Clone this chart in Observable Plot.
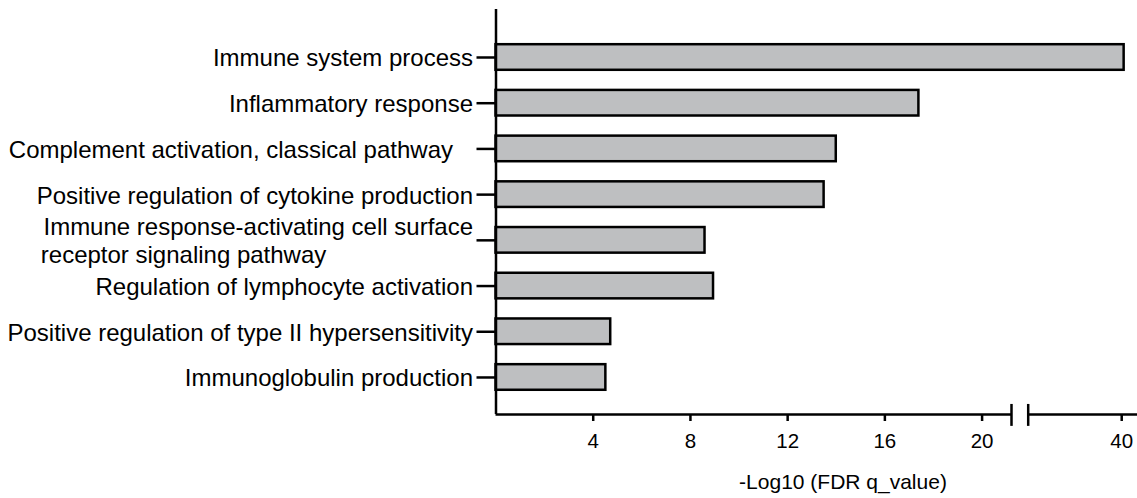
<!DOCTYPE html>
<html><head><meta charset="utf-8">
<script src="https://cdn.jsdelivr.net/npm/d3@7"></script>
<script src="https://cdn.jsdelivr.net/npm/@observablehq/plot@0.6"></script>
<style>
html,body{margin:0;padding:0;background:#fff;overflow:hidden;}
#chart{width:1137px;height:460px;}
#xtitle{font-family:"Liberation Sans",Arial,sans-serif;font-size:21px;margin-left:549px;width:588px;text-align:center;height:28px;line-height:24px;padding-top:10px;color:#000;white-space:nowrap;}
</style></head><body>
<div id="chart"></div>
<div id="xtitle"></div>
<script>
// ---- data ----
const categories = [
  "Immune system process",
  "Inflammatory response",
  "Complement activation, classical pathway",
  "Positive regulation of cytokine production",
  "Immune response-activating cell surface receptor signaling pathway",
  "Regulation of lymphocyte activation",
  "Positive regulation of type II hypersensitivity",
  "Immunoglobulin production"
];
const tickLabels = [
  "Immune system process",
  "Inflammatory response",
  "Complement activation, classical pathway\u00a0\u00a0\u00a0",
  "Positive regulation of cytokine production",
  "Immune response-activating cell surface\nreceptor signaling pathway" + "\u00a0".repeat(22),
  "Regulation of lymphocyte activation",
  "Positive regulation of type II hypersensitivity",
  "Immunoglobulin production"
];
const values = [40.1, 17.4, 14.0, 13.5, 8.6, 8.95, 4.72, 4.52];
const xTicks = [4, 8, 12, 16, 20, 40];
const xTitle = "-Log10 (FDR q_value)";
const axisBreak = [21.21, 36.15];
const xMax = 40.65;

// ---- chart ----
const data = categories.map((c, i) => ({category: c, label: tickLabels[i], value: values[i], i}));
const rows = data.map(d => d.i);
const yTop = -1.05, yBottom = 7.81;
const breakLow = 7.59, breakHigh = 8.07;
const font = '"Liberation Sans", Arial, Helvetica, sans-serif';

const plot = Plot.plot({
  width: 1137,
  height: 460,
  marginTop: 9,
  marginBottom: 46,
  marginLeft: 495.5,
  marginRight: 0,
  style: {fontFamily: font, background: "white", color: "black", overflow: "visible"},
  x: {type: "linear", domain: [0, axisBreak[0], axisBreak[1], xMax], range: [495.5, 1011, 1027.7, 1137]},
  y: {type: "linear", domain: [yBottom, yTop]},
  marks: [
    Plot.rect(data, {
      x1: () => 0, x2: "value",
      y1: d => d.i - 0.28, y2: d => d.i + 0.28,
      fill: "#bebfc1", stroke: "#000", strokeWidth: 2.5
    }),
    Plot.ruleX([0], {stroke: "#000", strokeWidth: 2.5}),
    Plot.ruleY([{a: 0, b: axisBreak[0]}, {a: axisBreak[1], b: xMax}], {
      y: () => yBottom, x1: "a", x2: "b", stroke: "#000", strokeWidth: 2.5
    }),
    Plot.ruleX(axisBreak, {y1: () => breakLow, y2: () => breakHigh, stroke: "#000", strokeWidth: 2.5}),
    Plot.axisX(xTicks, {
      anchor: "bottom", tickSize: 7, tickPadding: 12, fontSize: 20.5,
      strokeWidth: 2.5, label: null, tickFormat: d => String(d)
    }),
    Plot.axisY(rows, {
      anchor: "left", tickSize: 19, tickPadding: 4, fontSize: 24, lineHeight: 1.17,
      strokeWidth: 2.5, label: null, tickFormat: i => tickLabels[i]
    })
  ]
});
document.getElementById("chart").appendChild(plot);
document.getElementById("xtitle").textContent = xTitle;
</script>
</body></html>
